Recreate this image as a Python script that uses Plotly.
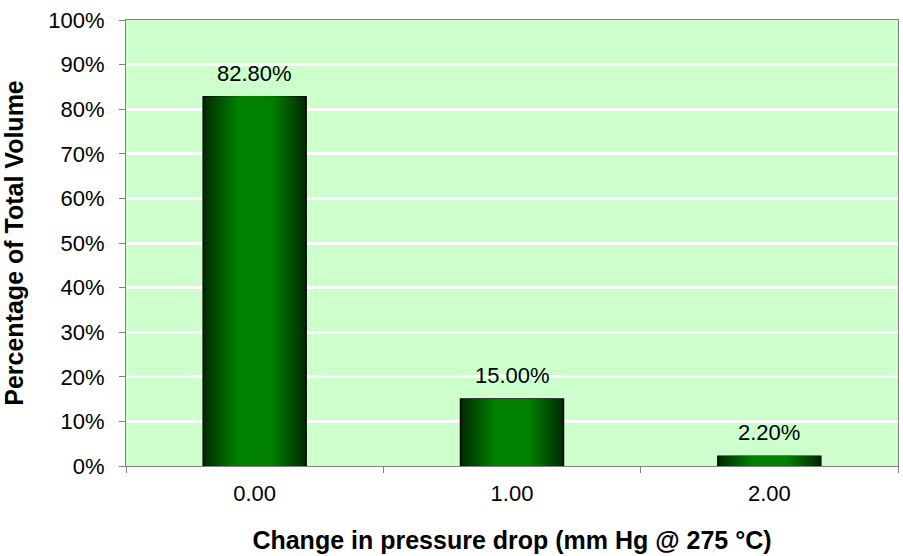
import plotly.graph_objects as go

categories = ["0.00", "1.00", "2.00"]
values = [82.8, 15.0, 2.2]
value_labels = ["82.80%", "15.00%", "2.20%"]
y_ticks = [0, 10, 20, 30, 40, 50, 60, 70, 80, 90, 100]
y_tick_labels = [f"{t}%" for t in y_ticks]

FONT = "Arial, Liberation Sans, sans-serif"

fig = go.Figure()

# Simulated horizontal gradient using nested overlaid bars
N = 24
dark = (0, 45, 0)
bright = (0, 128, 0)
for i in range(N):
    f = i / (N - 1)
    t = min(1.0, f * 1.5)
    c = tuple(int(dark[k] + (bright[k] - dark[k]) * t) for k in range(3))
    w = 0.40 * (1 - i / N)
    fig.add_trace(go.Bar(
        x=categories, y=values, width=w,
        marker=dict(color=f"rgb{c}",
                    line=dict(color="black", width=1.5 if i == 0 else 0)),
        hoverinfo="skip", showlegend=False,
    ))

for c, v, lab in zip(categories, values, value_labels):
    fig.add_annotation(x=c, y=v, text=lab, showarrow=False, yanchor="bottom",
                       yshift=9, font=dict(family=FONT, size=22, color="black"))

fig.update_layout(
    barmode="overlay",
    width=903, height=556,
    margin=dict(l=126, r=5, t=20, b=90),
    paper_bgcolor="white",
    plot_bgcolor="#CCFFCC",
    font=dict(family=FONT, size=22, color="black"),
    xaxis=dict(
        type="category", range=[-0.5, 2.5], automargin=False,
        showgrid=False, showline=True, linecolor="#808080", linewidth=1, mirror=True,
        ticks="outside", tickson="boundaries", ticklen=6, tickcolor="#808080",
        tickfont=dict(size=22), ticklabelstandoff=8,
        title=dict(text="<b>Change in pressure drop (mm Hg @ 275 °C)</b>", font=dict(size=25), standoff=26),
    ),
    yaxis=dict(
        range=[0, 100], tickvals=y_ticks, ticktext=y_tick_labels, automargin=False,
        showgrid=True, gridcolor="white", gridwidth=2.5,
        showline=True, linecolor="#808080", linewidth=1, mirror=True,
        ticks="outside", ticklen=6, tickcolor="#808080",
        tickfont=dict(size=22), ticklabelstandoff=10, zeroline=False,
        title=dict(text="<b>Percentage of Total Volume</b>", font=dict(size=25), standoff=20),
    ),
)

fig.write_html("out.html", config={"displayModeBar": False},
               post_script="document.body.style.margin='0';document.body.style.padding='0';document.body.style.overflow='hidden';")
